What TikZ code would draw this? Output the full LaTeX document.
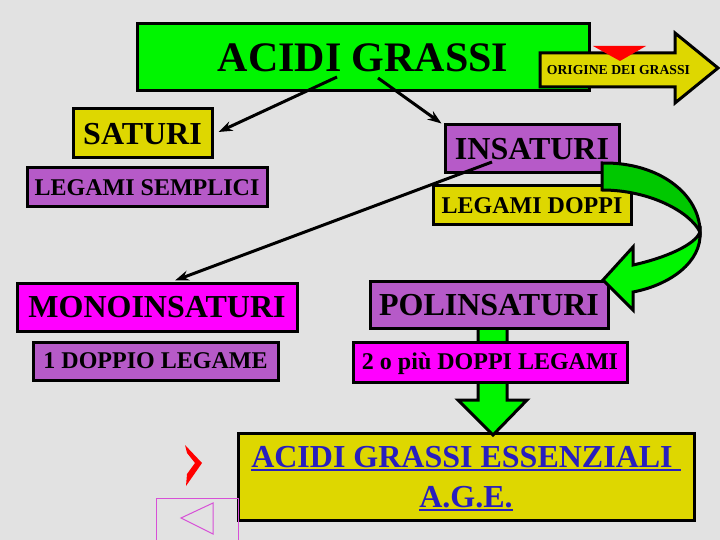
\documentclass[tikz,border=0pt]{standalone}
\usepackage{fontspec}
\setmainfont{Liberation Serif}
\usetikzlibrary{arrows.meta,calc}
\definecolor{bgc}{RGB}{226,226,226}
\definecolor{gbox}{RGB}{0,245,0}
\definecolor{gdark}{RGB}{0,200,0}
\definecolor{ybox}{RGB}{222,215,0}
\definecolor{pbox}{RGB}{182,90,200}
\definecolor{mbox}{RGB}{255,0,255}
\definecolor{bluetxt}{RGB}{40,30,190}
\definecolor{pinkline}{RGB}{215,80,215}
\newcommand\myul[1]{\setbox0\hbox{#1}\rlap{\rule[-3.5pt]{\wd0}{2pt}}\box0}
\begin{document}
\begin{tikzpicture}[x=1pt,y=-1pt,
  box/.style={draw=black, line width=3pt, inner sep=0pt, text depth=0pt},
  bigtxt/.style={font=\fontsize{32}{38}\selectfont\bfseries, text height=21.2pt},
  midtxt/.style={font=\fontsize{24}{29}\selectfont\bfseries, text height=15.9pt},
  conn/.style={line width=3pt, -{Stealth[length=14pt,width=10pt]}},
  blockarrow/.style={draw=black, line width=3pt, line join=miter}
]
\useasboundingbox (0,0) rectangle (720,540);
\fill[bgc] (0,0) rectangle (720,540);

% title
\node[box, fill=gbox, minimum width=452pt, minimum height=67pt,
      font=\fontsize{42}{50}\selectfont\bfseries, text height=27.8pt] (title) at (363,57.5) {ACIDI GRASSI};

% origine arrow
\draw[blockarrow, fill=ybox] (540,53) -- (675,53) -- (675,33) -- (718,68) -- (675,103) -- (675,87) -- (540,87) -- cycle;
\node[inner sep=0pt, font=\fontsize{13.7}{16}\selectfont\bfseries, text height=9.1pt, text depth=0pt] (orig) at (618.5,70) {ORIGINE DEI GRASSI};
\fill[red] (593,46) -- (646,46) -- (620,61) -- cycle;

% boxes
\node[box, bigtxt, fill=ybox, minimum width=139pt, minimum height=49pt] (sat) at (142.5,133.5) {SATURI};
\node[box, midtxt, fill=pbox, minimum width=240pt, minimum height=39pt] (sem) at (147,187.5) {LEGAMI SEMPLICI};
\node[box, bigtxt, fill=pbox, minimum width=174pt, minimum height=48pt] (insat) at (532,149) {INSATURI};
\node[box, midtxt, fill=ybox, minimum width=198pt, minimum height=39pt] (dop) at (532,205.5) {LEGAMI DOPPI};
\node[box, bigtxt, fill=mbox, minimum width=280pt, minimum height=48pt] (mono) at (157,307) {MONOINSATURI};
\node[box, midtxt, fill=pbox, minimum width=245pt, minimum height=38pt] (one) at (155.5,361) {1 DOPPIO LEGAME};

% AGE box
\node[box, fill=ybox, minimum width=456pt, minimum height=87pt] (age) at (466,476.5) {};
\node[inner sep=0pt, align=center, text=bluetxt, font=\fontsize{32}{40}\selectfont\bfseries] (agetxt) at (466,479) {\myul{ACIDI GRASSI ESSENZIALI\ }\\\myul{A.G.E.}};

% down block arrow
\draw[blockarrow, fill=gbox] (478,325) -- (507,325) -- (507,400) -- (527,400) -- (493,435) -- (458,400) -- (478,400) -- cycle;

\node[box, bigtxt, fill=pbox, minimum width=238pt, minimum height=47pt] (poli) at (489,304.5) {POLINSATURI};
\node[box, midtxt, fill=mbox, minimum width=274pt, minimum height=40pt] (two) at (490,362) {2 o più DOPPI LEGAMI};

% curved ribbon arrow
\draw[blockarrow, fill=gdark] (602,163) .. controls (660,162) and (700,195) .. (700,232)
   .. controls (690,212) and (650,190) .. (602,190) -- cycle;
\draw[blockarrow, fill=gbox] (700,232) .. controls (702,262) and (670,285) .. (633,292)
   -- (633,310) -- (603,280) -- (633,247) -- (633,265)
   .. controls (665,258) and (695,245) .. (700,232) -- cycle;

% connectors
\coordinate (l1s) at (337,77);
\coordinate (l2s) at (378,78);
\coordinate (l3s) at (492,162);
\draw[conn] (l1s) -- ([xshift=5pt,yshift=1.5pt]sat.east);
\draw[conn] (l2s) -- ([xshift=-2pt]insat.north west);
\draw[conn] (l3s) -- ([xshift=18pt,yshift=1pt]mono.north);

% navigation marks
\fill[red] (185,445) -- (202,463) -- (186,486) -- (187,474) -- (195,463) -- (187,453) -- cycle;
\draw[pinkline, line width=1pt] (156,541) -- (156,498) -- (238,498) -- (238,541);
\draw[pinkline, line width=1pt] (181,518) -- (213,503) -- (213,534) -- cycle;
\end{tikzpicture}
\end{document}
